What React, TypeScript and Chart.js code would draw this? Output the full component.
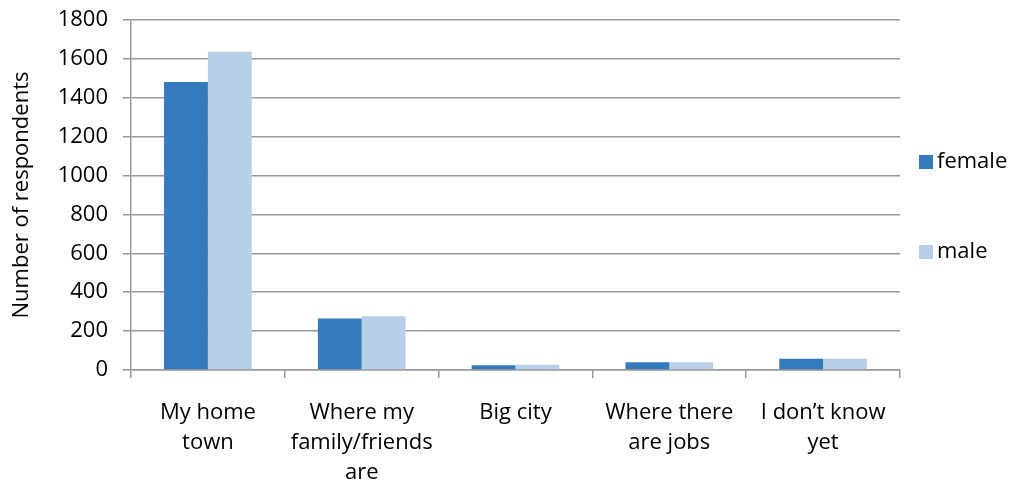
import React, { useEffect, useRef } from "react";
import { Chart, registerables } from "chart.js";

Chart.register(...registerables);

const categories: string[][] = [
  ["My home", "town"],
  ["Where my", "family/friends", "are"],
  ["Big city"],
  ["Where there", "are jobs"],
  ["I don\u2019t know", "yet"],
];
const femaleValues = [1481, 265, 24, 40, 58];
const maleValues = [1637, 276, 27, 40, 58];
const seriesNames = ["female", "male"];
const yTicks = [0, 200, 400, 600, 800, 1000, 1200, 1400, 1600, 1800];
const yTitle = "Number of respondents";

const FEMALE_COLOR = "#357ABD";
const MALE_COLOR = "#B6CFE7";
const FONT = "'Open Sans'";
const FS = 22;

const legendPlugin = {
  id: "customLegend",
  afterDraw(chart: any) {
    const ctx = chart.ctx;
    const items = chart.data.datasets.map((d: any) => ({ label: d.label, color: d.backgroundColor }));
    const x = 919;
    const ys = [162, 252];
    ctx.save();
    ctx.font = `${FS}px ${FONT}`;
    ctx.textBaseline = "middle";
    ctx.textAlign = "left";
    items.forEach((it: any, i: number) => {
      ctx.fillStyle = it.color;
      ctx.fillRect(x, ys[i] - 7, 14, 14);
      ctx.fillStyle = "#000";
      ctx.fillText(it.label, x + 18, ys[i]);
    });
    ctx.restore();
  },
};

export default function App() {
  const ref = useRef<HTMLCanvasElement>(null);
  useEffect(() => {
    if (!ref.current) return;
    const chart = new Chart(ref.current, {
      type: "bar",
      data: {
        labels: categories as any,
        datasets: [
          { label: seriesNames[0], data: femaleValues, backgroundColor: FEMALE_COLOR, categoryPercentage: 0.57, barPercentage: 1 },
          { label: seriesNames[1], data: maleValues, backgroundColor: MALE_COLOR, categoryPercentage: 0.57, barPercentage: 1 },
        ],
      },
      plugins: [legendPlugin],
      options: {
        animation: false,
        responsive: false,
        maintainAspectRatio: false,
        layout: { autoPadding: false, padding: { top: 20, right: 114, bottom: 0, left: 0 } } as any,
        plugins: { legend: { display: false }, tooltip: { enabled: false } },
        scales: {
          x: {
            grid: { display: true, drawOnChartArea: false, offset: true, color: "#999", lineWidth: 1.5, tickLength: 8 },
            border: { color: "#999", width: 1.5 },
            ticks: { color: "#000", font: { family: FONT, size: FS, lineHeight: 1.36 }, padding: 20, maxRotation: 0, autoSkip: false },
            afterFit: (s: any) => { s.height = 113; s.paddingLeft = 0; s.paddingRight = 0; },
          },
          y: {
            min: 0,
            max: 1800,
            afterBuildTicks: (s: any) => { s.ticks = yTicks.map((v) => ({ value: v })); },
            grid: { color: "#999", lineWidth: 1.5, tickLength: 8 },
            border: { color: "#999", width: 1.5 },
            ticks: { color: "#000", font: { family: FONT, size: FS }, padding: 15, callback: (v: any) => String(v) },
            title: { display: true, text: yTitle, color: "#000", font: { family: FONT, size: FS }, padding: { top: 9, bottom: 0 } },
            afterFit: (s: any) => { s.width = 131; s.paddingTop = 0; s.paddingBottom = 0; },
          },
        },
      },
    });
    return () => chart.destroy();
  }, []);
  return (
    <div style={{ position: "fixed", left: 0, top: 0, width: 1014, height: 483, background: "#fff" }}>
      <canvas ref={ref} width={1014} height={483} style={{ width: 1014, height: 483 }} />
    </div>
  );
}
